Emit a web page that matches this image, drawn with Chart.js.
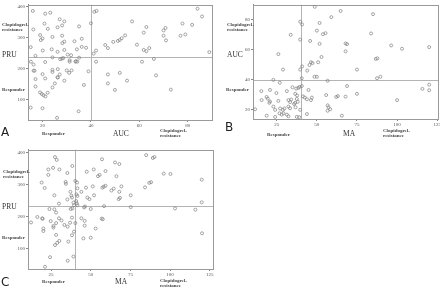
<!DOCTYPE html>
<html lang="en">
<head>
<meta charset="UTF-8">
<title>PRU / AUC / MA scatter plots</title>
<script src="https://cdn.jsdelivr.net/npm/chart.js"></script>
<style>
  body { margin: 0; width: 440px; height: 289px; overflow: hidden; background: #fff; position: relative;
         font-family: 'Liberation Serif', serif; color: #333; }
  .panel { position: absolute; }
  .lbl { position: absolute; font-size: 5px; line-height: 5px; white-space: nowrap; font-weight: bold; color: #444; }
  .big { font-size: 7.5px; line-height: 8px; font-weight: normal; color: #333; }
  .letter { position: absolute; font-family: 'DejaVu Sans', sans-serif; font-size: 12px; line-height: 12px; color: #222; }
</style>
</head>
<body>

<!-- A: PRU vs AUC -->
<div class="panel" style="left:0;top:0;width:220px;height:145px"><canvas id="chartA"></canvas></div>
<div class="lbl" style="left:2px;top:22px">Clopidogrel-<br>resistance</div>
<div class="lbl big" style="left:2px;top:51px">PRU</div>
<div class="lbl" style="left:2px;top:87px">Responder</div>
<div class="lbl" style="left:42px;top:131px">Responder</div>
<div class="lbl big" style="left:113px;top:130px">AUC</div>
<div class="lbl" style="left:160px;top:128px">Clopidogrel-<br>resistance</div>
<div class="letter" style="left:1px;top:126px">A</div>

<!-- B: AUC vs MA -->
<div class="panel" style="left:220px;top:0;width:230px;height:145px"><canvas id="chartB"></canvas></div>
<div class="lbl" style="left:227px;top:22px">Clopidogrel-<br>resistance</div>
<div class="lbl big" style="left:227px;top:51px">AUC</div>
<div class="lbl" style="left:226px;top:87px">Responder</div>
<div class="lbl" style="left:267px;top:132px">Responder</div>
<div class="lbl big" style="left:343px;top:130px">MA</div>
<div class="lbl" style="left:383px;top:128px">Clopidogrel-<br>resistance</div>
<div class="letter" style="left:225px;top:121px">B</div>

<!-- C: PRU vs MA -->
<div class="panel" style="left:0;top:145px;width:220px;height:144px"><canvas id="chartC"></canvas></div>
<div class="lbl" style="left:3px;top:169px">Clopidogrel-<br>resistance</div>
<div class="lbl big" style="left:2px;top:203px">PRU</div>
<div class="lbl" style="left:2px;top:235px">Responder</div>
<div class="lbl" style="left:42px;top:279px">Responder</div>
<div class="lbl big" style="left:115px;top:278px">MA</div>
<div class="lbl" style="left:160px;top:278px">Clopidogrel-<br>resistance</div>
<div class="letter" style="left:1px;top:276px">C</div>

<script>
// ---- panel A: AUC (x) vs PRU (y)
const aucA = [16.0,21.1,23.2,27.1,29.0,20.8,28.1,26.2,22.2,16.2,35.1,19.0,20.0,19.3,24.1,28.1,29.0,28.2,33.2,36.2,
  36.2,38.0,34.2,15.1,20.1,23.8,26.2,29.0,17.1,24.1,27.3,28.0,28.6,30.4,31.8,31.2,31.2,33.8,34.4,33.6,
  35.1,15.2,16.3,21.1,16.3,16.7,24.1,24.1,26.3,30.0,32.0,31.0,27.1,20.0,26.2,26.3,17.1,21.1,29.0,25.1,
  39.0,37.1,17.1,24.1,22.1,19.0,19.7,20.4,21.2,15.1,20.0,26.0,34.9,40.0,41.4,42.3,41.1,42.1,42.1,45.9,
  47.0,49.2,51.1,51.9,52.7,54.1,57.0,59.0,61.8,62.9,61.8,62.9,64.1,61.1,66.0,66.9,70.0,70.8,70.0,71.0,
  73.0,77.0,77.8,79.0,81.8,84.0,85.9,88.9,47.0,47.0,51.9,49.9,54.9];
const pruA = [385,376,379,358,351,344,338,332,327,325,335,307,296,291,301,305,286,281,287,295,
  269,266,261,268,257,261,253,259,240,235,229,231,233,244,242,226,221,223,221,221,
  234,221,212,220,192,192,195,188,197,193,193,185,180,181,171,170,165,167,160,151,
  190,146,141,138,121,122,117,113,109,73,71,40,61,345,382,385,247,257,221,275,
  265,285,288,291,297,306,351,276,315,333,259,255,265,221,230,177,322,330,305,290,
  131,305,344,309,340,392,367,252,180,151,185,130,160];

// ---- panel B: MA (x) vs AUC (y)
const maB = [48.7,64.8,85.0,59.0,39.6,40.8,51.7,50.0,53.8,55.4,33.7,83.8,39.6,45.8,51.7,67.9,68.8,96.3,103.1,120.0,
  67.9,26.0,52.9,46.3,47.3,45.4,50.8,86.7,87.7,40.8,39.6,44.0,28.9,75.0,48.5,50.0,40.6,87.5,89.6,22.9,
  26.9,56.7,34.8,37.1,38.5,39.1,40.6,15.4,20.8,24.8,31.3,44.8,36.5,37.7,68.8,75.0,55.8,62.1,63.1,67.9,
  18.7,19.4,15.6,20.8,20.4,26.0,32.3,34.0,33.3,37.5,38.1,41.3,42.5,43.8,46.3,46.9,35.8,36.5,22.9,24.0,
  27.1,28.8,29.8,11.5,32.3,33.3,36.7,39.6,26.7,28.1,29.2,18.7,24.0,31.3,32.3,37.5,39.0,43.8,56.7,57.3,
  58.3,56.7,65.6,100.0,115.8,120.0,120.0];
const aucB = [88.6,85.8,83.7,81.7,78.7,76.8,77.8,72.7,70.3,71.0,69.9,70.8,66.7,65.8,63.9,64.1,63.7,62.8,60.6,61.7,
  58.9,57.0,55.1,51.6,51.0,49.7,51.6,53.8,54.2,48.8,46.7,46.0,46.7,46.7,41.9,41.9,40.9,40.9,41.9,39.8,
  37.9,39.2,34.9,34.0,34.4,35.1,35.7,32.3,33.1,31.0,32.3,33.1,30.5,29.4,35.7,30.5,29.7,28.4,29.0,28.6,
  28.4,27.3,26.3,25.4,24.5,25.8,26.3,26.7,25.0,27.1,25.2,28.8,28.0,26.9,26.3,28.0,23.7,24.5,22.0,19.8,
  20.7,19.8,20.7,20.2,22.0,20.9,21.5,19.8,17.5,16.6,17.5,15.9,15.1,16.6,15.5,15.1,14.9,17.0,22.8,21.5,
  20.2,19.2,15.9,26.3,33.8,36.6,32.9];

// ---- panel C: MA (x) vs PRU (y)
const maC = [84.9,89.1,90.1,27.5,28.6,57.1,38.4,65.3,23.3,26.3,30.3,51.9,59.3,47.5,68.0,35.3,23.3,55.6,54.6,66.2,
  96.0,100.2,119.9,19.1,34.2,34.4,40.3,41.4,21.0,47.0,51.3,57.3,58.2,59.3,63.0,64.5,69.3,84.2,86.9,88.0,
  41.6,37.2,44.1,68.0,41.0,41.6,27.1,37.8,38.2,47.9,49.2,52.1,35.3,68.4,67.6,75.2,30.0,40.8,41.2,41.6,
  39.1,39.5,46.4,45.8,38.4,37.4,58.4,75.2,24.0,27.1,50.0,103.1,115.9,119.9,28.2,16.4,19.5,19.7,12.4,24.8,
  30.0,31.6,38.2,44.1,46.2,56.9,57.6,28.2,37.0,40.3,20.2,20.2,26.5,26.5,33.4,35.5,46.2,53.1,39.5,28.2,
  38.2,45.4,50.0,27.5,28.9,30.2,35.9,120.1,24.4,39.1,35.5,21.2];
const pruC = [392,383,386,386,377,379,358,369,347,352,347,347,342,340,364,336,330,330,326,326,
  334,333,315,306,308,302,311,306,289,290,294,290,293,296,281,287,294,291,305,307,
  288,277,277,277,269,264,266,265,259,259,254,266,253,258,254,266,240,248,241,235,
  243,235,231,228,225,223,232,229,223,222,223,225,221,244,212,198,194,192,181,185,
  194,187,196,194,186,193,191,179,180,179,162,154,170,165,173,168,171,162,152,142,
  141,131,133,110,117,123,121,147,72,74,61,42];

// cut-offs and ticks
const cutA = { x: 40, y: 237 };
const cutB = { x: 40, y: 40 };
const cutC = { x: 40, y: 234 };
const ticksAUC_A = [20, 40, 60, 80];
const ticksPRU = [100, 200, 300, 400];
const ticksMA = [25, 50, 75, 100, 125];
const ticksAUC_B = [20, 40, 60, 80];

const guides = {
  id: 'guides',
  beforeDatasetsDraw(chart, args, opts) {
    const { ctx, chartArea: a, scales: { x, y } } = chart;
    const px = Math.round(x.getPixelForValue(opts.cutX)) + 0.5;
    const py = Math.round(y.getPixelForValue(opts.cutY)) + 0.5;
    ctx.save();
    ctx.strokeStyle = '#b4b4b4';
    ctx.lineWidth = 1;
    ctx.beginPath();
    ctx.moveTo(px, a.top); ctx.lineTo(px, a.bottom);
    ctx.moveTo(a.left, py); ctx.lineTo(a.right, py);
    ctx.stroke();
    ctx.strokeStyle = '#9a9a9a';
    ctx.strokeRect(Math.round(a.left) + 0.5, Math.round(a.top) + 0.5,
                   Math.round(a.right - a.left), Math.round(a.bottom - a.top));
    ctx.restore();
  }
};

function axis(min, max, ticks, fit) {
  return {
    type: 'linear', min, max,
    afterBuildTicks: s => { s.ticks = ticks.map(v => ({ value: v })); },
    afterFit: fit,
    ticks: { font: { family: 'Liberation Serif', size: 5 }, color: '#555', padding: 1 },
    grid: { drawOnChartArea: false, tickLength: 2, color: '#888' },
    border: { color: '#888' }
  };
}

function makeChart(id, xs, ys, cut, xr, yr, xt, yt, yWidth, xHeight, pad) {
  new Chart(document.getElementById(id), {
    type: 'scatter',
    data: {
      datasets: [{
        data: xs.map((v, i) => ({ x: v, y: ys[i] })),
        pointRadius: 1.5,
        pointBorderWidth: 0.7,
        pointBorderColor: '#808080',
        pointBackgroundColor: 'rgba(255,255,255,0)'
      }]
    },
    options: {
      responsive: true,
      maintainAspectRatio: false,
      animation: false,
      layout: { padding: pad },
      plugins: { legend: { display: false }, tooltip: { enabled: false },
                 guides: { cutX: cut.x, cutY: cut.y } },
      scales: {
        x: axis(xr[0], xr[1], xt, s => { s.height = xHeight; }),
        y: axis(yr[0], yr[1], yt, s => { s.width = yWidth; })
      }
    },
    plugins: [guides]
  });
}

makeChart('chartA', aucA, pruA, cutA, [14, 90], [33, 405], ticksAUC_A, ticksPRU, 28, 25,
  { top: 1, right: 8, left: 0, bottom: 0 });
makeChart('chartB', maB, aucB, cutB, [10.2, 125.5], [13.7, 90], ticksMA, ticksAUC_B, 33, 26,
  { top: 1, right: 12, left: 0, bottom: 0 });
makeChart('chartC', maC, pruC, cutC, [10.5, 127], [35, 409], ticksMA, ticksPRU, 28, 20,
  { top: 4, right: 7, left: 0, bottom: 0 });
</script>
</body>
</html>
